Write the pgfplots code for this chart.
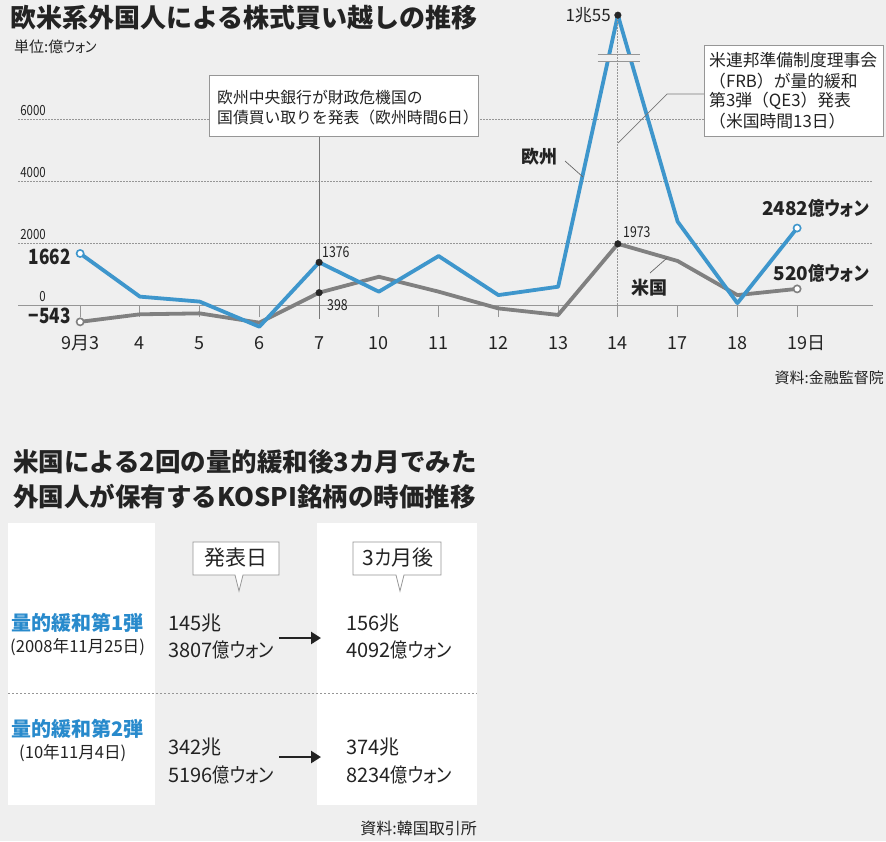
\documentclass[border=0pt]{standalone}
\usepackage{fontspec}
\setmainfont{Noto Sans CJK JP}
\newfontfamily\cond{Noto Sans CJK JP}[FakeStretch=0.82]
\newfontfamily\pw{Noto Sans CJK JP}[RawFeature=+palt, FakeStretch=0.86]
\usepackage{pgfplots}
\pgfplotsset{compat=1.18}
\usetikzlibrary{arrows.meta}
\definecolor{bg}{RGB}{239,239,239}
\definecolor{euc}{RGB}{62,150,204}
\definecolor{usc}{RGB}{128,128,128}
\definecolor{axgray}{RGB}{150,150,150}
\definecolor{qe}{RGB}{40,138,204}
\definecolor{txt}{RGB}{35,35,35}
\newcommand\fs[2]{\fontsize{#1}{#2}\selectfont}
\newcommand\won{{\pw 億ウォン}}
\begin{document}
\begin{tikzpicture}[x=1pt,y=-1pt,t/.style={inner sep=0pt,text=txt}]
\fill[bg] (0,0) rectangle (886,841);
\path[use as bounding box] (0,0) rectangle (886,841);

% ---- top chart ----
\node[t,anchor=west,font=\fs{26}{30}\bfseries] at (10,18) {欧米系外国人による株式買い越しの推移};
\node[t,anchor=west,font=\fs{15}{18}] at (14,47) {単位:億{\pw ウォン}};

\begin{axis}[
  at={(18pt,-336pt)}, anchor=south west,
  scale only axis, width=855pt, height=325.5pt,
  xmin=-1.04, xmax=13.27, ymin=-1000, ymax=9500,
  axis x line=middle, axis y line=none,
  axis line style={-, draw=axgray, line width=1pt},
  hide obscured x ticks=false,
  xtick={0,...,12},
  xticklabels={9月3,4,5,6,7,10,11,12,13,14,17,18,19\rlap{日}},
  tick align=outside, major tick length=12pt,
  tick style={draw=axgray, line width=1pt},
  xticklabel style={font=\fs{18}{21}, text=txt, anchor=base, inner sep=0pt, yshift=-32pt},
  ytick=\empty,
  clip=false,
]
\foreach \v in {2000,4000,6000}{
  \edef\tmp{\noexpand\draw[axgray, dash pattern=on 1.5pt off 1.5pt, line width=0.7pt] (axis cs:-1.04,\v) -- (axis cs:13.27,\v);}\tmp
}
\draw[axgray!80!black, line width=1pt] (axis cs:4,5500) -- (axis cs:4,-450);

% US
\addplot[usc, line width=3.8pt, line join=round, mark=none] coordinates
{(0,-543)(1,-300)(2,-270)(3,-570)(4,398)(5,910)(6,430)(7,-110)(8,-320)(9,1973)(10,1420)(11,320)(12,520)};
% Europe (peak 1兆55, drawn on a broken scale)
\addplot[euc, line width=3.8pt, line join=round, mark=none] coordinates
{(0,1662)(1,270)(2,110)(3,-700)(4,1376)(5,430)(6,1580)(7,320)(8,590)(9,9350)(10,2690)(11,60)(12,2482)};

% axis break
\fill[bg] (axis cs:8.66,8065) rectangle (axis cs:9.37,7871);
\draw[axgray, line width=1pt] (axis cs:8.66,8065) -- (axis cs:9.37,8065);
\draw[axgray, line width=1pt] (axis cs:8.66,7871) -- (axis cs:9.37,7871);
\draw[axgray, dash pattern=on 1.5pt off 1.5pt, line width=0.8pt] (axis cs:9,9350) -- (axis cs:9,0);

\addplot[only marks, mark=*, mark size=3.6pt, mark options={fill=white, draw=euc, line width=1.6pt}] coordinates {(0,1662)(12,2482)};
\addplot[only marks, mark=*, mark size=3.6pt, mark options={fill=white, draw=usc, line width=1.6pt}] coordinates {(0,-543)(12,520)};
\addplot[only marks, mark=*, mark size=3.3pt, black!85] coordinates {(4,1376)(4,398)(9,9350)(9,1973)};
\end{axis}

% y labels
\node[t,anchor=south east,font=\cond\fs{14}{16}] at (46,116) {6000};
\node[t,anchor=south east,font=\cond\fs{14}{16}] at (46,178) {4000};
\node[t,anchor=south east,font=\cond\fs{14}{16}] at (46,240) {2000};
\node[t,anchor=south east,font=\cond\fs{14}{16}] at (46,302) {0};

% value labels
\node[t,anchor=east,font=\cond\fs{21}{24}\bfseries] at (71,257) {1662};
\node[t,anchor=east,font=\cond\fs{21}{24}\bfseries] at (71,316) {−543};
\node[t,anchor=west,font=\cond\fs{15}{18}] at (322,252) {1376};
\node[t,anchor=west,font=\cond\fs{15}{18}] at (327,305) {398};
\node[t,anchor=west,font=\cond\fs{15}{18}] at (623,232) {1973};
\node[t,anchor=east,font=\fs{17}{20}] at (611,15) {1兆55};
\node[t,anchor=east,font=\fs{19}{22}\bfseries] at (869,208) {2482\won};
\node[t,anchor=east,font=\fs{19}{22}\bfseries] at (869,273) {520\won};

% series names
\node[t,font=\fs{18}{21}\bfseries] at (539,157) {欧州};
\draw[txt!70, line width=0.7pt] (565,161) -- (583,177);
\node[t,font=\fs{18}{21}\bfseries] at (649,288) {米国};
\draw[txt!70, line width=0.7pt] (650,273) -- (667,258);

% callouts
\draw[axgray, fill=white, line width=0.8pt] (209,75) rectangle (478,136);
\node[t,anchor=west,font=\fs{15.8}{18}] at (217,97) {欧州中央銀行が財政危機国の};
\node[t,anchor=west,font=\fs{15.8}{18}] at (217,117) {国債買い取りを発表（欧州時間6日）};

\draw[axgray!80!black, line width=0.7pt] (704,94) -- (667,94) -- (618,143);
\draw[axgray, fill=white, line width=0.8pt] (704,45) rectangle (883,136);
\node[t,anchor=west,font=\fs{16.8}{19}] at (709,60) {米連邦準備制度理事会};
\node[t,anchor=west,font=\fs{16.8}{19}] at (709,81) {（FRB）が量的緩和};
\node[t,anchor=west,font=\fs{16.8}{19}] at (709,101) {第3弾（QE3）発表};
\node[t,anchor=west,font=\fs{16.8}{19}] at (709,121) {（米国時間13日）};

\node[t,anchor=east,font=\fs{15}{18}] at (884,378) {資料:金融監督院};

% ---- bottom table ----
\node[t,anchor=west,font=\fs{25.5}{30}\bfseries] at (13,462) {米国による2回の量的緩和後3カ月でみた};
\node[t,anchor=west,font=\fs{25.5}{30}\bfseries] at (13,497) {外国人が保有するKOSPI銘柄の時価推移};

\fill[white] (8,523) rectangle (155,805);
\fill[white] (317,523) rectangle (477,805);
\draw[axgray, dash pattern=on 2pt off 2pt, line width=0.8pt] (8,693) -- (477,693);

\draw[axgray, fill=white, line width=0.8pt] (193,542) -- (279,542) -- (279,575) -- (243,575) -- (239,591) -- (235,575) -- (193,575) -- cycle;
\node[t,font=\fs{21}{24}] at (236,558) {発表日};
\draw[axgray, fill=white, line width=0.8pt] (353,542) -- (441,542) -- (441,575) -- (404,575) -- (400,591) -- (396,575) -- (353,575) -- cycle;
\node[t,font=\fs{21}{24}] at (398,558) {3{\pw カ}月後};

\node[t,anchor=west,font=\fs{20}{23}\bfseries,text=qe] at (11,623) {量的緩和第1弾};
\node[t,anchor=west,font=\fs{16.6}{19}] at (10,647) {(2008年11月25日)};
\node[t,anchor=west,font=\fs{20}{23}\bfseries,text=qe] at (11,729) {量的緩和第2弾};
\node[t,anchor=west,font=\fs{16.6}{19}] at (19,753) {(10年11月4日)};

\node[t,anchor=west,font=\fs{20}{23}] at (168,623) {145兆};
\node[t,anchor=west,font=\fs{20}{23}] at (168,650) {3807\won};
\node[t,anchor=west,font=\fs{20}{23}] at (346,623) {156兆};
\node[t,anchor=west,font=\fs{20}{23}] at (346,650) {4092\won};
\node[t,anchor=west,font=\fs{20}{23}] at (168,747) {342兆};
\node[t,anchor=west,font=\fs{20}{23}] at (168,775) {5196\won};
\node[t,anchor=west,font=\fs{20}{23}] at (346,747) {374兆};
\node[t,anchor=west,font=\fs{20}{23}] at (346,775) {8234\won};

\draw[txt, line width=2.4pt, -{Triangle[length=10pt,width=12pt]}] (279,638) -- (321,638);
\draw[txt, line width=2.4pt, -{Triangle[length=10pt,width=12pt]}] (279,757) -- (321,757);

\node[t,anchor=east,font=\fs{16}{19}] at (477,828) {資料:韓国取引所};
\end{tikzpicture}
\end{document}
